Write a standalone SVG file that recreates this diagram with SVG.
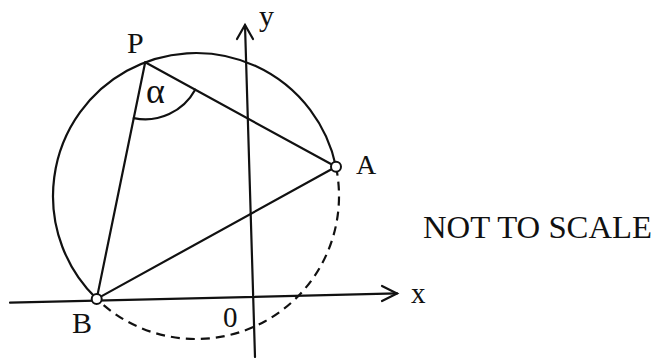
<svg xmlns="http://www.w3.org/2000/svg" width="656" height="358" viewBox="0 0 656 358">
<style>
.ln{fill:none;stroke:#111;stroke-width:2.2;stroke-linecap:round}
.ds{fill:none;stroke:#111;stroke-width:2.2;stroke-dasharray:9 6}
.pt{fill:#fff;stroke:#111;stroke-width:2}
text{font-family:"Liberation Serif","Times New Roman",serif;fill:#111}
</style>
<rect width="656" height="358" fill="#fff"/>
<g id="axes">
<path class="ln" d="M10 302.7 L397 293.4"/>
<path class="ln" d="M382 286 L397 293.4 L382 301"/>
<path class="ln" d="M255 357 L245 25"/>
<path class="ln" d="M237 39 L245 25 L253 39"/>
<text x="411" y="303" font-size="29">x</text>
<text x="259" y="26" font-size="30">y</text>
<text x="223" y="327" font-size="29">0</text>
</g>
<g id="circle">
<path class="ln" d="M96.7 298.9 A143 143 0 1 1 336 166.8"/>
<path class="ds" d="M336 166.8 A143 143 0 0 1 96.7 298.9"/>
</g>
<g id="connectors">
<path class="ln" d="M145.2 62.3 L336 166.8"/>
<path class="ln" d="M145.2 62.3 L96.7 298.9"/>
<path class="ln" d="M96.7 298.9 L336 166.8"/>
<path class="ln" d="M133.8 118.1 A57 57 0 0 0 195.2 89.7"/>
</g>
<g id="P"><text x="127" y="53" font-size="30">P</text></g>
<g id="alpha"><text x="146" y="103" font-size="36">α</text></g>
<g id="A"><circle class="pt" cx="336" cy="166.8" r="5"/><text x="356" y="174" font-size="28">A</text></g>
<g id="B"><circle class="pt" cx="96.7" cy="298.9" r="5"/><text x="72" y="333" font-size="30">B</text></g>
<g id="note"><text x="423" y="238" font-size="32" textLength="229" lengthAdjust="spacingAndGlyphs">NOT TO SCALE</text></g>
</svg>
